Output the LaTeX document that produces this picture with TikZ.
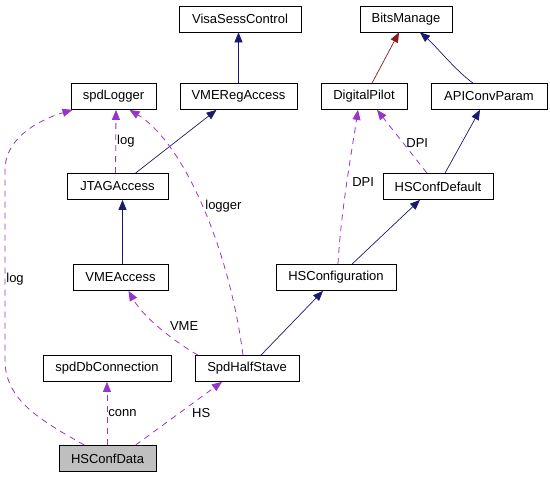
\documentclass[tikz,border=0pt]{standalone}
\usepackage{fontspec}
\setmainfont{Liberation Sans}
\usepackage{tikz}
\usetikzlibrary{arrows.meta}
\definecolor{inhblue}{HTML}{191970}
\definecolor{inhred}{HTML}{8B1A1A}
\definecolor{usepurple}{HTML}{9A32CD}
\tikzset{every picture/.style={line width=0.75pt}}
\tikzset{
  cls/.style={draw=black,fill=white,inner sep=0pt,minimum height=26pt,font=\fontsize{13}{15}\selectfont},
  cur/.style={cls,fill=black!25},
  inh/.style={draw=inhblue,line width=0.7pt,-{Triangle[length=10pt,width=8pt]}},
  inhr/.style={inh,draw=inhred,-{Triangle[length=10pt,width=8pt,fill=inhred]}},
  usl/.style={draw=usepurple,line width=0.8pt,dash pattern=on 6pt off 5pt,-{Triangle[length=10pt,width=8pt]}},
  lbl/.style={inner sep=1pt,font=\fontsize{13}{15}\selectfont}
}
\begin{document}
\begin{tikzpicture}[x=1pt,y=-1pt]
\useasboundingbox (0,0) rectangle (550,477);
% classes
\node[cls,minimum width=122pt] (visa) at (240,19) {VisaSessControl};
\node[cls,minimum width=92pt] (bits) at (406,19) {BitsManage};
\node[cls,minimum width=85pt] (logger) at (113.5,96.5) {spdLogger};
\node[cls,minimum width=117pt] (vmereg) at (238.5,96.5) {VMERegAccess};
\node[cls,minimum width=86pt] (pilot) at (364,96.5) {DigitalPilot};
\node[cls,minimum width=116pt] (apiconv) at (489,96.5) {APIConvParam};
\node[cls,minimum width=101pt] (jtag) at (117.5,186.5) {JTAGAccess};
\node[cls,minimum width=110pt] (hsdef) at (438,186.5) {HSConfDefault};
\node[cls,minimum width=95pt] (vme) at (120.5,277.5) {VMEAccess};
\node[cls,minimum width=120pt] (hsconf) at (336,277.5) {HSConfiguration};
\node[cls,minimum width=128pt] (dbconn) at (107,368.5) {spdDbConnection};
\node[cls,minimum width=104pt] (stave) at (247,368.5) {SpdHalfStave};
\node[cur,minimum width=97pt] (hsdata) at (107.5,458.5) {HSConfData};
%
% inheritance
\draw[inh] (vmereg.north) -- (vmereg.north|-visa.south);
\draw[inhr] ([xshift=8pt]pilot.north) -- ([xshift=-7pt]bits.south);
\draw[inh] ([xshift=-16pt]apiconv.north) .. controls (455,70) and (435,45) .. ([xshift=14pt]bits.south);
\draw[inh] ([xshift=18pt]jtag.north) -- ([xshift=-22pt]vmereg.south);
\draw[inh] ([xshift=7pt]hsdef.north) -- ([xshift=-9pt]apiconv.south);
\draw[inh] ([xshift=2pt]vme.north) -- ([xshift=2pt]vme.north|-jtag.south);
\draw[inh] ([xshift=16pt]hsconf.north) -- ([xshift=-18pt]hsdef.south);
\draw[inh] ([xshift=14pt]stave.north) -- ([xshift=-13pt]hsconf.south);
%
% usage
\draw[usl] ([xshift=-2pt]jtag.north) -- ([xshift=2.5pt]logger.south) node[lbl,pos=0.5,right] {log};
\draw[usl] ([xshift=-11pt]hsdef.north) -- ([xshift=13pt]pilot.south) node[lbl,pos=0.48,right=2pt] {DPI};
\draw[usl] ([xshift=2pt]hsconf.north) .. controls (341,210) and (352,150) .. ([xshift=-6pt]pilot.south) node[lbl,pos=0.5,right=4pt] {DPI};
\draw[usl] ([xshift=-49pt]stave.north) .. controls (180,345) and (145,320) .. ([xshift=8pt]vme.south) node[lbl,pos=0.45,above right=2pt] {VME};
\draw[usl] ([xshift=-4pt]stave.north) .. controls (228,240) and (180,140) .. ([xshift=16pt]logger.south) node[lbl,pos=0.48,right=2pt] {logger};
\draw[usl] (hsdata.north-|dbconn.south) -- (dbconn.south) node[lbl,pos=0.5,right] {conn};
\draw[usl] ([xshift=28pt]hsdata.north) -- ([xshift=-25pt]stave.south) node[lbl,pos=0.5,right=12pt] {HS};
\draw[usl] ([xshift=-23pt]hsdata.north) .. controls (40,420) and (5,400) .. (5,360) -- (5,170) .. controls (5,135) and (45,118) .. ([xshift=-41pt]logger.south);
\node[lbl,anchor=west] (loglbl) at (5,279) {log};
\end{tikzpicture}
\end{document}
